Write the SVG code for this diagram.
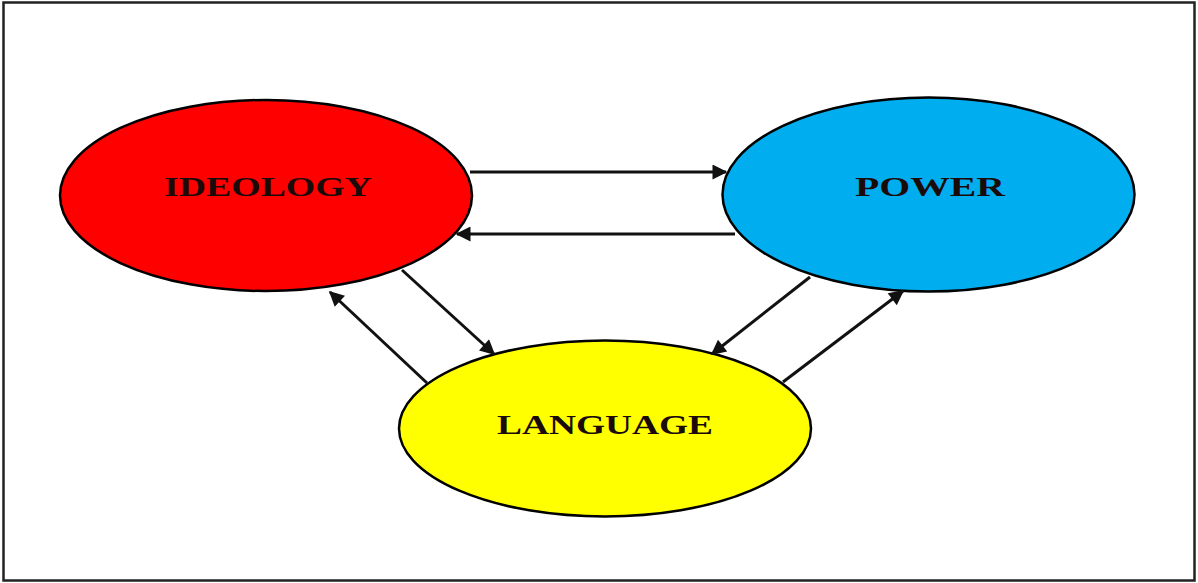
<svg xmlns="http://www.w3.org/2000/svg" width="1198" height="583" viewBox="0 0 1198 583">
<style>
.node{stroke:#000;stroke-width:2.5}
.lbl{font-family:"Liberation Serif","Times New Roman",serif;font-weight:bold;font-size:28px;fill:#1a0a0a;text-anchor:middle}
.conn{stroke:#111;stroke-width:3;fill:none;marker-end:url(#ah)}
</style>
<defs>
<marker id="ah" viewBox="0 0 10 10" refX="9" refY="5" markerWidth="6" markerHeight="5" orient="auto" markerUnits="strokeWidth">
<path d="M0,0 L10,5 L0,10 z" fill="#111"/>
</marker>
</defs>
<rect x="0" y="0" width="1198" height="583" fill="#fff"/>
<rect x="3.5" y="2.5" width="1191" height="578" fill="none" stroke="#222" stroke-width="2.5"/>
<g id="ideology">
<ellipse class="node" cx="266" cy="195.5" rx="206" ry="95.5" fill="#ff0000"/>
<text class="lbl" x="268" y="196" textLength="208" lengthAdjust="spacingAndGlyphs">IDEOLOGY</text>
</g>
<g id="power">
<ellipse class="node" cx="928.5" cy="194.5" rx="206" ry="97" fill="#00aeef"/>
<text class="lbl" x="930" y="196" textLength="150" lengthAdjust="spacingAndGlyphs">POWER</text>
</g>
<g id="language">
<ellipse class="node" cx="605" cy="428.5" rx="206" ry="88" fill="#ffff00"/>
<text class="lbl" x="605" y="434" textLength="216" lengthAdjust="spacingAndGlyphs">LANGUAGE</text>
</g>
<g id="connectors">
<line class="conn" x1="470" y1="172" x2="726" y2="172"/>
<line class="conn" x1="735" y1="234" x2="457" y2="234"/>
<line class="conn" x1="402" y1="270" x2="494" y2="354"/>
<line class="conn" x1="427" y1="383" x2="330" y2="292"/>
<line class="conn" x1="810" y1="277" x2="712" y2="354"/>
<line class="conn" x1="783" y1="382" x2="903" y2="291"/>
</g>
</svg>
